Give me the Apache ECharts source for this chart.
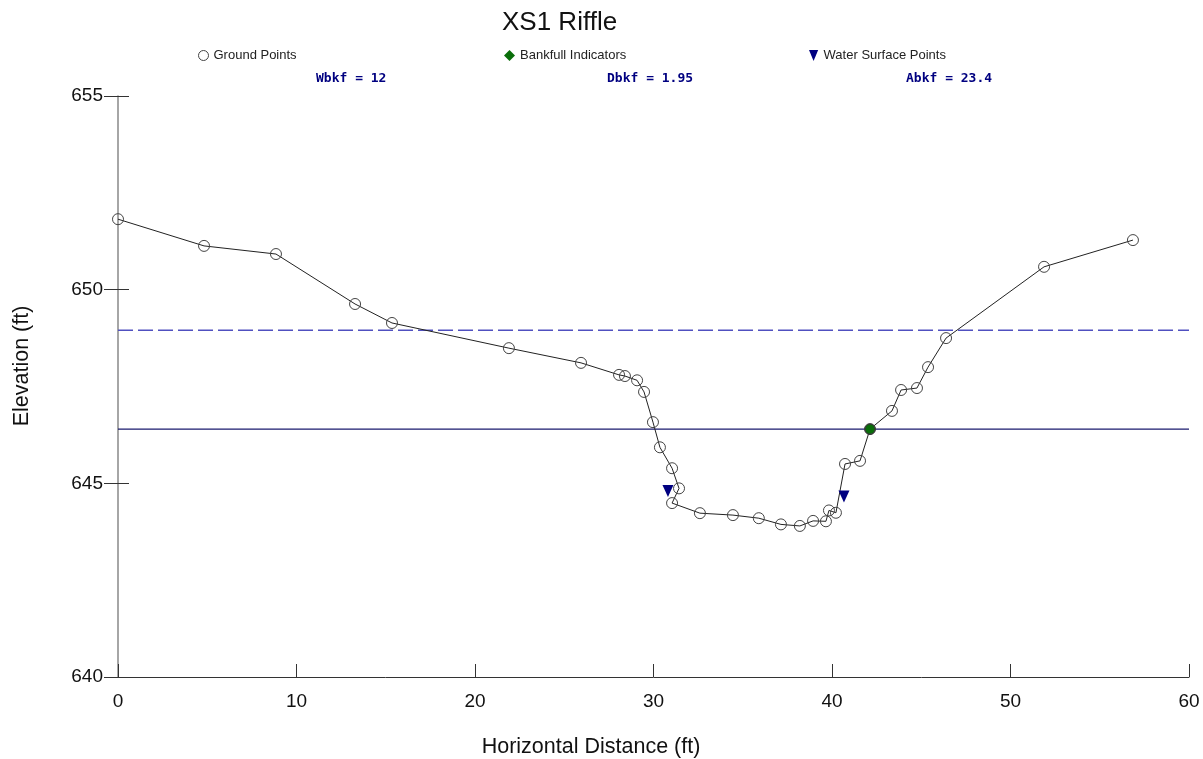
<!DOCTYPE html>
<html>
<head>
<meta charset="utf-8">
<script src="https://cdn.jsdelivr.net/npm/echarts@6/dist/echarts.min.js"></script>
<style>html,body{margin:0;padding:0;background:#fff;}#chart{width:1203px;height:759px;}</style>
</head>
<body>
<div id="chart"></div>
<script>
// ---- data ----
const groundX = [0, 4.82, 8.85, 13.28, 15.35, 21.9, 25.94, 28.07, 28.4, 29.08, 29.47, 29.97, 30.36, 31.04, 31.43, 31.04, 32.6, 34.45, 35.9, 37.14, 38.2, 38.94, 39.66, 39.83, 40.22, 40.73, 41.57, 42.13, 43.36, 43.87, 44.76, 45.38, 46.39, 51.88, 56.86];
const groundY = [651.82, 651.13, 650.92, 649.63, 649.14, 648.49, 648.11, 647.8, 647.77, 647.66, 647.36, 646.58, 645.93, 645.39, 644.87, 644.49, 644.23, 644.18, 644.1, 643.94, 643.9, 644.03, 644.02, 644.3, 644.24, 645.5, 645.58, 646.4, 646.87, 647.41, 647.46, 648.0, 648.75, 650.59, 651.28];
const bankfullX = [42.13];
const bankfullY = [646.4];
const waterX = [30.81, 40.67];
const waterY = [644.8, 644.66];
const bankfullElev = [646.4];
const floodproneElev = [648.95];
const xRange = [0, 60];
const yRange = [640, 655];
const legendNames = ['Ground Points', 'Bankfull Indicators', 'Water Surface Points'];
const annotations = ['Wbkf = 12', 'Dbkf = 1.95', 'Abkf = 23.4'];

const pairs = (xs, ys) => xs.map((x, i) => [x, ys[i]]);
const FONT = '"Liberation Sans", Arial, sans-serif';

const chart = echarts.init(document.getElementById('chart'), null, {renderer: 'canvas'});
const grid = {left: 118, right: 14, top: 96, bottom: 82};

const option = {
  animation: false,
  backgroundColor: '#ffffff',
  grid: grid,
  legend: [
    {data: [{name: legendNames[0], icon: 'circle', itemStyle: {color: '#fff', borderColor: '#444', borderWidth: 1, opacity: 1}}], left: 193, top: 44, itemWidth: 10, itemHeight: 10, itemGap: 6, textStyle: {fontFamily: FONT, fontSize: 13, color: '#222'}},
    {data: [{name: legendNames[1], icon: 'diamond', itemStyle: {color: '#0a6e0a', borderWidth: 0, opacity: 1}}], left: 499, top: 44, itemWidth: 11, itemHeight: 11, textStyle: {fontFamily: FONT, fontSize: 13, color: '#222'}},
    {data: [{name: legendNames[2], icon: 'path://M0,0 L10,0 L5,12 Z', itemStyle: {color: '#000080', borderWidth: 0, opacity: 1}}], left: 804, top: 44, itemWidth: 10, itemHeight: 11, textStyle: {fontFamily: FONT, fontSize: 13, color: '#222'}}
  ],
  xAxis: {
    type: 'value', min: xRange[0], max: xRange[1], interval: 10,
    axisLine: {show: true, onZero: false, lineStyle: {color: '#333', width: 1}},
    axisTick: {show: true, inside: true, length: 13, lineStyle: {color: '#333'}},
    axisLabel: {fontFamily: FONT, fontSize: 19, color: '#111', margin: 15},
    splitLine: {show: false}
  },
  yAxis: [
    {
      type: 'value', min: yRange[0], max: yRange[1], interval: 5,
      axisLine: {show: true, onZero: false, lineStyle: {color: '#888', width: 1.5}},
      axisTick: {show: true, inside: true, length: 11, lineStyle: {color: '#333'}},
      axisLabel: {show: false},
      splitLine: {show: false}
    },
    {
      type: 'value', min: yRange[0], max: yRange[1], interval: 5, position: 'left',
      axisLine: {show: false},
      axisTick: {show: true, inside: false, length: 14, lineStyle: {color: '#333'}},
      axisLabel: {fontFamily: FONT, fontSize: 19, color: '#111', margin: 15},
      splitLine: {show: false}
    }
  ],
  series: [
    {
      name: 'Floodprone', type: 'line', silent: true, symbol: 'none',
      data: pairs(xRange, [floodproneElev[0], floodproneElev[0]]),
      lineStyle: {color: '#5050c0', width: 1.5, type: [15, 5]}, z: 1
    },
    {
      name: 'Bankfull', type: 'line', silent: true, symbol: 'none',
      data: pairs(xRange, [bankfullElev[0], bankfullElev[0]]),
      lineStyle: {color: '#1a1a6e', width: 1.3}, z: 1
    },
    {
      name: legendNames[0], type: 'line', data: pairs(groundX, groundY),
      symbol: 'circle', symbolSize: 11,
      lineStyle: {color: '#222', width: 1},
      itemStyle: {color: 'rgba(255,255,255,0)', borderColor: '#444', borderWidth: 1},
      z: 3
    },
    {
      name: legendNames[1], type: 'scatter', data: pairs(bankfullX, bankfullY),
      symbol: 'circle', symbolSize: 10,
      itemStyle: {color: '#0a6e0a', borderColor: '#333', borderWidth: 1, opacity: 1},
      z: 5
    },
    {
      name: legendNames[2], type: 'scatter', data: pairs(waterX, waterY),
      symbol: 'path://M0,0 L10,0 L5,12 Z', symbolSize: [11, 12],
      itemStyle: {color: '#000080', opacity: 1},
      z: 4
    }
  ],
  graphic: [
    {type: 'text', left: 502, top: 10, style: {text: 'XS1 Riffle', font: '26px ' + FONT, fill: '#111'}},
    {type: 'text', left: 316, top: 72, style: {text: annotations[0], font: 'bold 13px "DejaVu Sans Mono", monospace', fill: '#000080'}},
    {type: 'text', left: 607, top: 72, style: {text: annotations[1], font: 'bold 13px "DejaVu Sans Mono", monospace', fill: '#000080'}},
    {type: 'text', left: 906, top: 72, style: {text: annotations[2], font: 'bold 13px "DejaVu Sans Mono", monospace', fill: '#000080'}},
    {type: 'text', x: 591, y: 747, style: {text: 'Horizontal Distance (ft)', font: '21.5px ' + FONT, fill: '#111', textAlign: 'center', textVerticalAlign: 'middle'}},
    {type: 'text', x: 22, y: 366, rotation: Math.PI / 2, style: {text: 'Elevation (ft)', font: '21.5px ' + FONT, fill: '#111', textAlign: 'center', textVerticalAlign: 'middle'}}
  ]
};
chart.setOption(option);
</script>
</body>
</html>
